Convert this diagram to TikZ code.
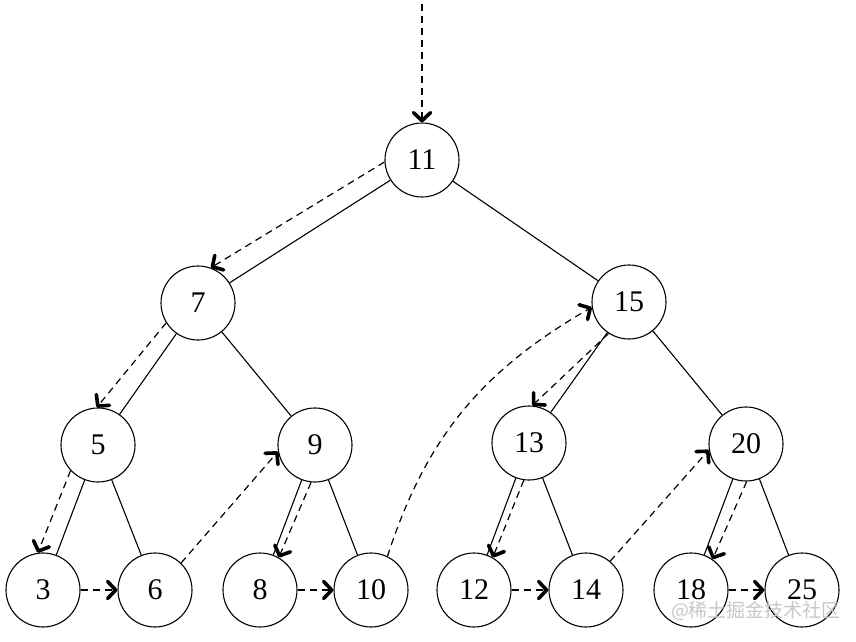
\documentclass[tikz,border=0pt]{standalone}
\usepackage{fontspec}
\setmainfont{Liberation Serif}
\newfontfamily\cjk{Noto Sans CJK SC}
\usetikzlibrary{arrows.meta}
\begin{document}
\begin{tikzpicture}[x=1pt,y=-1pt,
  tn/.style={circle,draw,line width=1.1pt,minimum size=74pt,inner sep=0pt,font=\fontsize{30}{36}\selectfont},
  edge/.style={line width=1.1pt},
  trav/.style={line width=1.2pt,dash pattern=on 7pt off 5pt,-{Straight Barb[length=8pt,width=17pt,line width=3.6pt,round]}},
  wmark/.style={text=black!22,font=\cjk\fontsize{19}{22}\selectfont,inner sep=0pt}]
\useasboundingbox (0,0) rectangle (856,642);
% nodes
\node[tn] (n11) at (422,160) {11};
\node[tn] (n7)  at (198,303) {7};
\node[tn] (n15) at (629,302) {15};
\node[tn] (n5)  at (98,445)  {5};
\node[tn] (n9)  at (315,445) {9};
\node[tn] (n13) at (529,443) {13};
\node[tn] (n20) at (746,444) {20};
\node[tn] (n3)  at (43,590)  {3};
\node[tn] (n6)  at (155,590) {6};
\node[tn] (n8)  at (260,590) {8};
\node[tn] (n10) at (371,590) {10};
\node[tn] (n12) at (474,590) {12};
\node[tn] (n14) at (586,590) {14};
\node[tn] (n18) at (691,590) {18};
\node[tn] (n25) at (802,590) {25};
\coordinate (start) at (422,4);
% tree edges
\draw[edge] (n11) -- (n7);
\draw[edge] (n11) -- (n15);
\draw[edge] (n7) -- (n5);
\draw[edge] (n7) -- (n9);
\draw[edge] (n15) -- (n13);
\draw[edge] (n15) -- (n20);
\draw[edge] (n5) -- (n3);
\draw[edge] (n5) -- (n6);
\draw[edge] (n9) -- (n8);
\draw[edge] (n9) -- (n10);
\draw[edge] (n13) -- (n12);
\draw[edge] (n13) -- (n14);
\draw[edge] (n20) -- (n18);
\draw[edge] (n20) -- (n25);
% traversal
\draw[trav] (start) -- (n11.north);
\draw[trav] (n11.183) -- (n7.70);
\draw[trav] (n7.212) -- (n5.92);
\draw[trav] (n5.223) -- (n3.98);
\draw[trav] (n3) -- (n6);
\draw[trav] (n6.46) -- (n9.190);
\draw[trav] (n9.264) -- (n8.60);
\draw[trav] (n8) -- (n10);
\draw[trav] (n10.64) to[out=72,in=210] (n15.188);
\draw[trav] (n15.237) -- (n13.85);
\draw[trav] (n13.262) -- (n12.60);
\draw[trav] (n12) -- (n14);
\draw[trav] (n14.50) -- (n20.189);
\draw[trav] (n20.271) -- (n18.55);
\draw[trav] (n18) -- (n25);
% watermark
\node[wmark] (wm) at (756,611) {@稀土掘金技术社区};
\end{tikzpicture}
\end{document}
